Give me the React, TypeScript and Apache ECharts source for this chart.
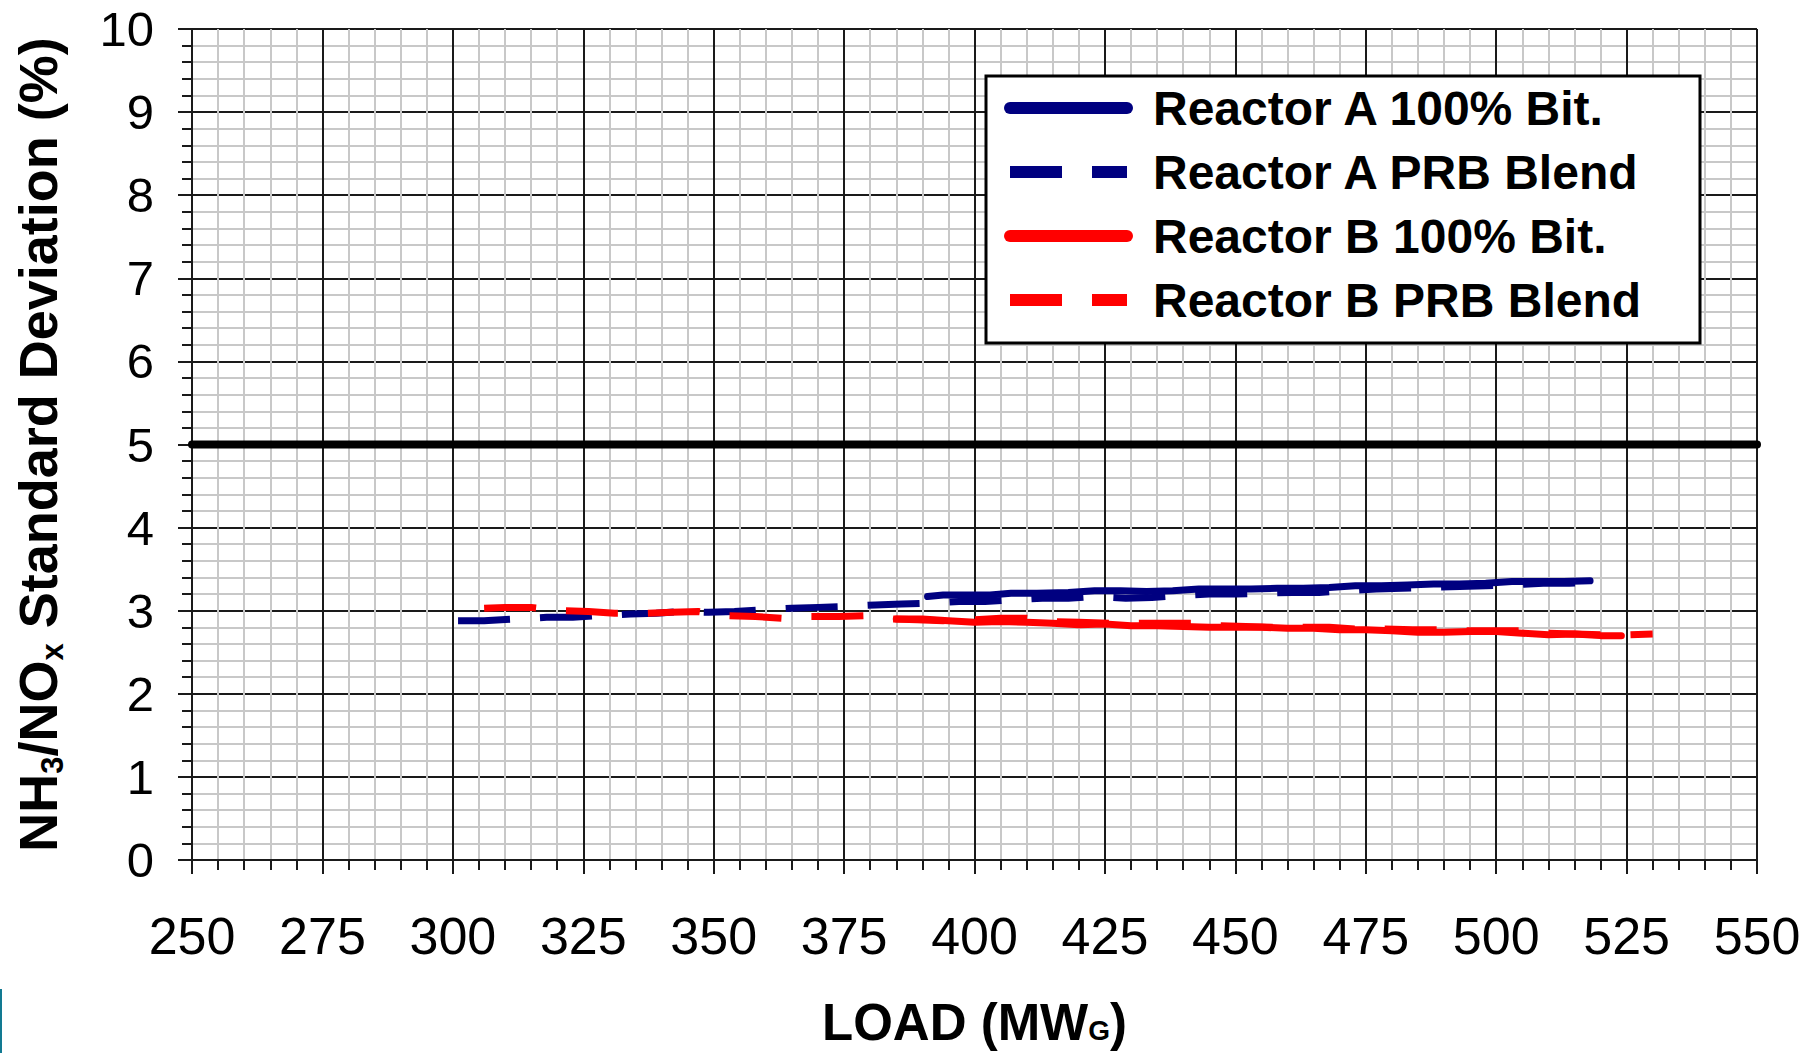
import React, { useEffect, useRef } from 'react';
import * as echarts from 'echarts';

const FONT = '"Liberation Sans", Arial, sans-serif';

const xMin = 250;
const xMax = 550;
const xStep = 25;
const yMin = 0;
const yMax = 10;
const yStep = 1;

const seriesNames = [
  'Reactor A 100% Bit.',
  'Reactor A PRB Blend',
  'Reactor B 100% Bit.',
  'Reactor B PRB Blend',
];

// Reactor A 100% Bit. (solid navy)
const aBitLoad = [391, 394, 398, 403, 407, 412, 418, 423, 428, 433, 438, 443, 448, 453, 458, 463, 468, 473, 478, 483, 488, 493, 498, 503, 508, 513, 518];
const aBitSd = [3.17, 3.19, 3.19, 3.19, 3.21, 3.21, 3.22, 3.24, 3.24, 3.23, 3.24, 3.26, 3.26, 3.26, 3.27, 3.27, 3.28, 3.3, 3.3, 3.31, 3.32, 3.32, 3.33, 3.35, 3.35, 3.35, 3.36];

// Reactor A PRB Blend (dashed navy)
const aPrbLoad = [301, 306, 312, 318, 323, 328, 334, 339, 344, 349, 354, 359, 365, 370, 375, 381, 386, 391, 397, 402, 407, 413, 418, 423, 429, 434, 439, 445, 450, 455, 461, 466, 471, 477, 482, 487, 493, 498, 503, 509, 514, 518];
const aPrbSd = [2.88, 2.88, 2.9, 2.92, 2.92, 2.94, 2.96, 2.97, 2.99, 2.98, 2.99, 3.01, 3.03, 3.04, 3.05, 3.07, 3.08, 3.09, 3.11, 3.11, 3.13, 3.15, 3.15, 3.17, 3.15, 3.16, 3.18, 3.2, 3.2, 3.21, 3.22, 3.22, 3.24, 3.26, 3.27, 3.28, 3.29, 3.3, 3.31, 3.33, 3.33, 3.34];

// Reactor B 100% Bit. (solid red)
const bBitLoad = [385, 390, 395, 400, 405, 410, 415, 420, 425, 430, 435, 440, 445, 450, 455, 460, 465, 470, 475, 480, 485, 490, 495, 500, 505, 510, 515, 520, 524];
const bBitSd = [2.9, 2.9, 2.88, 2.86, 2.87, 2.86, 2.85, 2.83, 2.84, 2.82, 2.82, 2.81, 2.8, 2.8, 2.8, 2.79, 2.79, 2.77, 2.77, 2.76, 2.74, 2.74, 2.75, 2.75, 2.73, 2.71, 2.72, 2.7, 2.7];

// Reactor B PRB Blend (dashed red)
const bPrbLoad = [306, 310, 315, 321, 326, 331, 337, 342, 347, 352, 358, 363, 368, 374, 379, 384, 389, 394, 400, 405, 410, 415, 420, 426, 431, 437, 442, 447, 452, 457, 463, 468, 473, 478, 484, 489, 494, 500, 505, 510, 515, 520, 525, 530];
const bPrbSd = [3.03, 3.04, 3.04, 3.0, 2.99, 2.97, 2.97, 2.98, 2.99, 2.94, 2.93, 2.91, 2.93, 2.93, 2.94, 2.9, 2.89, 2.88, 2.89, 2.91, 2.91, 2.87, 2.86, 2.85, 2.85, 2.85, 2.85, 2.82, 2.81, 2.8, 2.8, 2.8, 2.78, 2.78, 2.77, 2.77, 2.76, 2.76, 2.76, 2.73, 2.72, 2.71, 2.71, 2.72];

// 5% limit line
const limitLoad = [250, 550];
const limitSd = [5, 5];

const zip = (xs: number[], ys: number[]) => xs.map((x, i) => [x, ys[i]]);

const NAVY = '#000080';
const RED = '#ff0000';
const DARK = '#1a1a1a';
const MINOR = '#c8c8c8';
const DASH = [52, 30];

function buildOption() {
  const solid = (color: string) => ({
    color,
    width: 7,
    type: 'solid',
    cap: 'round',
    join: 'round',
  });
  const dashed = (color: string) => ({
    color,
    width: 7,
    type: DASH,
    cap: 'butt',
    join: 'round',
  });
  const axisCommon = {
    type: 'value',
    axisLine: { show: true, onZero: false, lineStyle: { color: DARK, width: 2 } },
    axisTick: { show: true, length: 14, lineStyle: { color: DARK, width: 2 } },
    minorTick: { show: true, splitNumber: 5, length: 10, lineStyle: { color: DARK, width: 2 } },
    splitLine: { show: true, lineStyle: { color: DARK, width: 2 } },
    minorSplitLine: { show: true, lineStyle: { color: MINOR, width: 2 } },
  };
  return {
    animation: false,
    backgroundColor: '#ffffff',
    grid: {
      left: 192,
      right: 57,
      top: 29,
      bottom: 193,
      containLabel: false,
      outerBoundsMode: 'none',
    },
    xAxis: {
      ...axisCommon,
      min: xMin,
      max: xMax,
      interval: xStep,
      axisLabel: { fontSize: 52, fontFamily: FONT, color: '#000', margin: 50 },
      name: '{b|LOAD (MW}{s|G}{b|)}',
      nameLocation: 'middle',
      nameGap: 140,
      nameTextStyle: {
        rich: {
          b: { fontSize: 51, fontWeight: 'bold', fontFamily: FONT, color: '#000', lineHeight: 44 },
          s: { fontSize: 28, fontWeight: 'bold', fontFamily: FONT, color: '#000', lineHeight: 28, verticalAlign: 'bottom' },
        },
      },
    },
    yAxis: {
      ...axisCommon,
      min: yMin,
      max: yMax,
      interval: yStep,
      axisLabel: { fontSize: 49, fontFamily: FONT, color: '#000', margin: 38 },
      name: '{b|NH}{s|3}{b|/NO}{s|x}{b| Standard Deviation (%)}',
      nameLocation: 'middle',
      nameRotate: 90,
      nameGap: 124,
      nameTextStyle: {
        rich: {
          b: { fontSize: 54, fontWeight: 'bold', fontFamily: FONT, color: '#000', lineHeight: 60 },
          s: { fontSize: 31, fontWeight: 'bold', fontFamily: FONT, color: '#000', lineHeight: 44, verticalAlign: 'bottom' },
        },
      },
    },
    legend: {
      data: seriesNames,
      orient: 'vertical',
      left: 1004,
      top: 82,
      padding: 0,
      itemGap: 12,
      itemWidth: 117,
      itemHeight: 12,
      selectedMode: false,
      z: 10,
      itemStyle: { opacity: 0 },
      lineStyle: { width: 12 },
      textStyle: {
        fontFamily: FONT,
        fontWeight: 'bold',
        fontSize: 48,
        color: '#000',
        lineHeight: 52,
        padding: [0, 0, 0, 21],
      },
    },
    graphic: {
      elements: [
        {
          type: 'rect',
          z: 6,
          shape: { x: 986, y: 76, width: 714, height: 267 },
          style: { fill: '#ffffff', stroke: '#000000', lineWidth: 3 },
        },
        {
          type: 'rect',
          z: 6,
          shape: { x: 0, y: 989, width: 2, height: 64 },
          style: { fill: '#127a92' },
        },
      ],
    },
    series: [
      {
        name: 'limit',
        type: 'line',
        data: zip(limitLoad, limitSd),
        symbol: 'none',
        silent: true,
        lineStyle: { color: '#000000', width: 8, cap: 'round' },
        z: 2,
      },
      {
        name: seriesNames[0],
        type: 'line',
        data: zip(aBitLoad, aBitSd),
        symbol: 'none',
        silent: true,
        itemStyle: { color: NAVY },
        lineStyle: solid(NAVY),
        z: 3,
      },
      {
        name: seriesNames[1],
        type: 'line',
        data: zip(aPrbLoad, aPrbSd),
        symbol: 'none',
        silent: true,
        itemStyle: { color: NAVY },
        lineStyle: dashed(NAVY),
        z: 3,
      },
      {
        name: seriesNames[2],
        type: 'line',
        data: zip(bBitLoad, bBitSd),
        symbol: 'none',
        silent: true,
        itemStyle: { color: RED },
        lineStyle: solid(RED),
        z: 3,
      },
      {
        name: seriesNames[3],
        type: 'line',
        data: zip(bPrbLoad, bPrbSd),
        symbol: 'none',
        silent: true,
        itemStyle: { color: RED },
        lineStyle: dashed(RED),
        z: 3,
      },
    ],
  };
}

export default function App() {
  const ref = useRef<HTMLDivElement>(null);
  useEffect(() => {
    document.body.style.margin = '0';
    const chart = echarts.init(ref.current as HTMLDivElement, null, { renderer: 'svg' });
    chart.setOption(buildOption() as any);
    return () => {
      chart.dispose();
    };
  }, []);
  return <div ref={ref} style={{ width: 1814, height: 1053 }} />;
}
